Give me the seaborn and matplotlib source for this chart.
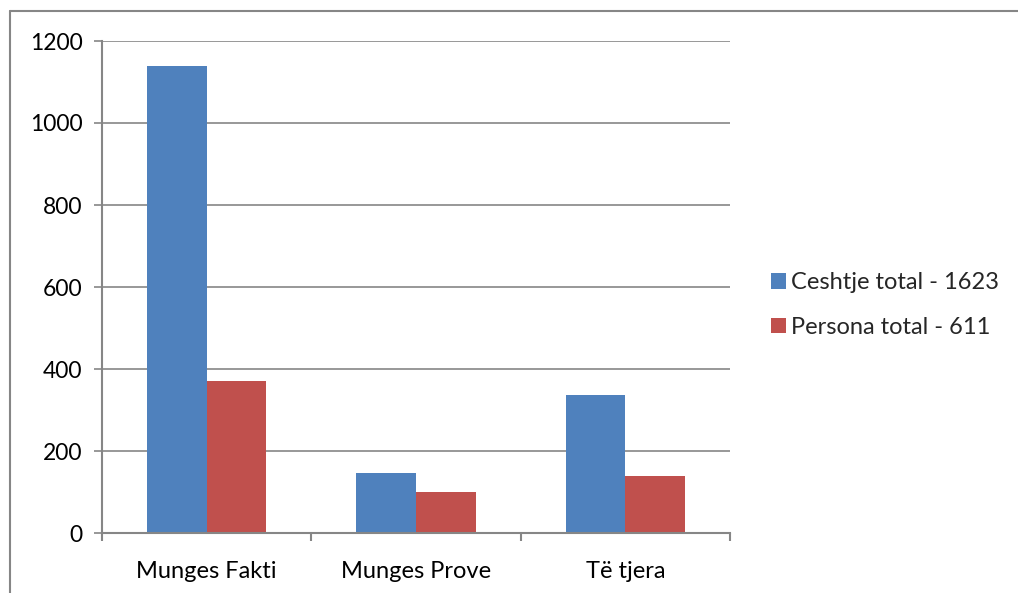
import matplotlib
matplotlib.use("Agg")
import matplotlib.pyplot as plt
from matplotlib.lines import Line2D
import seaborn as sns
import pandas as pd

categories = ["Munges Fakti", "Munges Prove", "Të tjera"]
series_names = ["Ceshtje total - 1623", "Persona total - 611"]
ceshtje = [1140, 146, 337]
persona = [371, 101, 138]
yticks = [0, 200, 400, 600, 800, 1000, 1200]

df = pd.DataFrame({
    "cat": categories * 2,
    "series": [series_names[0]] * 3 + [series_names[1]] * 3,
    "value": ceshtje + persona,
})

sns.set_theme(style="white")
plt.rcParams['font.family'] = ['Lato', 'DejaVu Sans']

fig = plt.figure(figsize=(10.18, 5.93), dpi=100)
W, H = 1018, 593
ax = fig.add_axes([102 / W, 1 - 533 / H, (730 - 102) / W, (533 - 41) / H])

sns.barplot(data=df, x="cat", y="value", hue="series", order=categories,
            hue_order=series_names, palette=["#4F81BD", "#C0504D"],
            width=0.571, gap=0, saturation=1, ax=ax, legend=True,
            edgecolor="none", linewidth=0)

ax.set_xlim(-0.5, 2.5)
ax.set_ylim(0, 1200)
ax.set_yticks(yticks)
ax.set_yticklabels([str(v) for v in yticks])
ax.set_xlabel("")
ax.set_ylabel("")

gc = "#868686"
ax.yaxis.grid(True, color=gc, linewidth=1.2)
ax.set_axisbelow(True)
for s in ["top", "right"]:
    ax.spines[s].set_visible(False)
for s in ["left", "bottom"]:
    ax.spines[s].set_color(gc)
    ax.spines[s].set_linewidth(1.5)

ax.tick_params(axis="y", which="major", left=True, length=6, width=1.2,
               color=gc, pad=8, labelsize=16.5, labelcolor="black")
ax.tick_params(axis="x", which="major", bottom=False, length=0, pad=20,
               labelsize=17, labelcolor="black")
ax.set_xticks([-0.5, 0.5, 1.5, 2.5], minor=True)
ax.tick_params(axis="x", which="minor", bottom=True, length=6, width=1.5,
               color=gc)

handles, labels = ax.get_legend_handles_labels()
ax.legend(handles, labels, loc="center left", bbox_to_anchor=(771 / W, 1 - 305 / H),
          bbox_transform=fig.transFigure, frameon=False, fontsize=17,
          handlelength=0.64, handleheight=0.64, handletextpad=0.22,
          labelspacing=1.0, borderpad=0, borderaxespad=0)

# outer chart frame (cut at right/bottom as in reference)
fig.add_artist(Line2D([9.5 / W, 9.5 / W], [1 - 10.5 / H, 0], transform=fig.transFigure,
                      color=gc, linewidth=1.5))
fig.add_artist(Line2D([9.5 / W, 1], [1 - 10.5 / H, 1 - 10.5 / H], transform=fig.transFigure,
                      color=gc, linewidth=1.5))

fig.savefig("out.png", dpi=100)
